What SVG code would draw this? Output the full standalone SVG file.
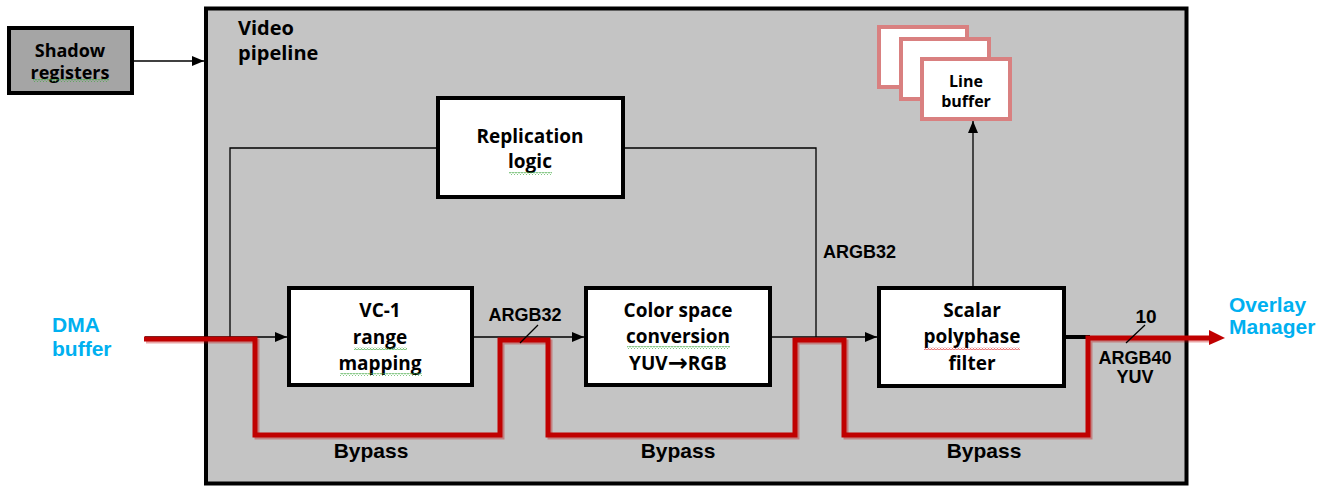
<svg xmlns="http://www.w3.org/2000/svg" width="1327" height="487" viewBox="0 0 1327 487">
<style>
.cal{font-family:"Open Sans","DejaVu Sans",sans-serif;font-weight:700;fill:#000;text-anchor:middle}
.ar{font-family:"Liberation Sans",Arial,sans-serif;font-weight:700;fill:#000}
.blue{font-family:"Liberation Sans",Arial,sans-serif;font-weight:700;fill:#00b0f0;font-size:21px}
.box{fill:#fff;stroke:#000;stroke-width:4}
.thin{fill:none;stroke:#000;stroke-width:1.3}
.red{fill:none;stroke:#c00000;stroke-width:5;stroke-linejoin:miter}
.lb{fill:#fff;stroke:#d98080;stroke-width:4}
</style>
<defs>
<marker id="ah" viewBox="0 0 12 10" refX="12" refY="5" markerWidth="12" markerHeight="10" markerUnits="userSpaceOnUse" orient="auto">
<path d="M0,0 L12,5 L0,10 Z" fill="#000"/>
</marker>
<pattern id="sqG" width="3" height="3" patternUnits="userSpaceOnUse">
<path d="M0,2.5 L1.5,0.5 L3,2.5" fill="none" stroke="#3aa63a" stroke-width="0.8"/>
</pattern>
<pattern id="sqR" width="3" height="3" patternUnits="userSpaceOnUse">
<path d="M0,2.5 L1.5,0.5 L3,2.5" fill="none" stroke="#e03030" stroke-width="0.8"/>
</pattern>
</defs>
<rect x="0" y="0" width="1327" height="487" fill="#fff"/>

<g id="video-pipeline">
<rect x="206" y="8.5" width="980.5" height="475" fill="#c4c4c4" stroke="#000" stroke-width="4"/>
<text class="cal" style="text-anchor:start" font-size="20" x="238" y="35">Video</text>
<text class="cal" style="text-anchor:start" font-size="20" x="238" y="60">pipeline</text>
</g>

<g id="shadow-registers">
<rect x="9" y="28" width="123" height="65" fill="#a5a5a5" stroke="#000" stroke-width="4"/>
<text class="cal" font-size="18" x="70" y="57">Shadow</text>
<text class="cal" font-size="18" x="70" y="79">registers</text>
<rect x="33" y="79" width="76" height="3" fill="url(#sqG)"/>
</g>

<g id="replication-logic">
<rect class="box" x="438" y="98" width="185" height="99"/>
<text class="cal" font-size="19" x="530" y="143">Replication</text>
<text class="cal" font-size="19" x="530" y="168">logic</text>
<rect x="509" y="172" width="43" height="3" fill="url(#sqG)"/>
</g>

<g id="line-buffer">
<rect class="lb" x="879" y="27" width="88" height="60"/>
<rect class="lb" x="901" y="39" width="88" height="60"/>
<rect class="lb" x="922" y="59" width="88" height="60"/>
<text class="cal" font-size="16" x="966" y="87">Line</text>
<text class="cal" font-size="16" x="966" y="107">buffer</text>
</g>

<g id="vc1">
<rect class="box" x="289" y="288" width="183" height="97"/>
<text class="cal" font-size="19" x="380" y="317">VC-1</text>
<text class="cal" font-size="19" x="380" y="344">range</text>
<text class="cal" font-size="19" x="380" y="370">mapping</text>
<rect x="354" y="347" width="53" height="3" fill="url(#sqG)"/>
<rect x="340" y="373" width="82" height="3" fill="url(#sqG)"/>
</g>

<g id="color-space">
<rect class="box" x="586" y="288" width="184" height="97"/>
<text class="cal" font-size="19" x="678" y="317">Color space</text>
<text class="cal" font-size="19" x="678" y="343">conversion</text>
<text class="cal" font-size="19" x="678" y="370">YUV<tspan font-family="DejaVu Sans,sans-serif" font-size="24" dy="1">→</tspan><tspan dy="-1">RGB</tspan></text>
<rect x="627" y="346" width="103" height="3" fill="url(#sqG)"/>
</g>

<g id="scalar">
<rect class="box" x="879" y="288" width="185" height="98"/>
<text class="cal" font-size="19" x="972" y="317">Scalar</text>
<text class="cal" font-size="19" x="972" y="343">polyphase</text>
<text class="cal" font-size="19" x="972" y="370">filter</text>
<rect x="924" y="347" width="96" height="3" fill="url(#sqR)"/>
</g>

<g id="connectors">
<path class="thin" d="M132,61 H204" marker-end="url(#ah)"/>
<path class="thin" d="M145,337 H287" marker-end="url(#ah)"/>
<path class="thin" d="M230,337 V148 H438"/>
<path class="thin" d="M623,148 H816 V337"/>
<path class="thin" d="M472,337 H584" marker-end="url(#ah)"/>
<path class="thin" d="M770,337 H877" marker-end="url(#ah)"/>
<path class="thin" d="M973,287 V121" marker-end="url(#ah)"/>
<path d="M1064,337 H1090" stroke="#000" stroke-width="4"/>
<path class="red" d="M146,341 H257 V437 H502 V342 H550 V437 H797 V342 H846 V437 H1090 V340 H1210" stroke="#555" stroke-opacity="0.35"/>
<path class="red" d="M144,339 H255 V435 H500 V340 H548 V435 H795 V340 H844 V435 H1088 V338 H1211"/>
<path d="M1209,330 L1225,338 L1209,345 Z" fill="#c00000"/>
<path class="thin" d="M538,325 L520,343"/>
<path class="thin" d="M1145,325 L1126,343"/>
</g>

<g id="labels">
<text class="ar" font-size="18" x="525" y="321" text-anchor="middle">ARGB32</text>
<text class="ar" font-size="18" x="823" y="258">ARGB32</text>
<text class="ar" font-size="19" x="1146" y="323" text-anchor="middle">10</text>
<text class="ar" font-size="18" x="1135" y="364" text-anchor="middle">ARGB40</text>
<text class="ar" font-size="18" x="1135" y="383" text-anchor="middle">YUV</text>
<text class="ar" font-size="21" x="371" y="458" text-anchor="middle">Bypass</text>
<text class="ar" font-size="21" x="678" y="458" text-anchor="middle">Bypass</text>
<text class="ar" font-size="21" x="984" y="458" text-anchor="middle">Bypass</text>
<text class="blue" x="52" y="332">DMA</text>
<text class="blue" x="52" y="356">buffer</text>
<text class="blue" x="1229" y="312">Overlay</text>
<text class="blue" x="1229" y="334">Manager</text>
</g>
</svg>
